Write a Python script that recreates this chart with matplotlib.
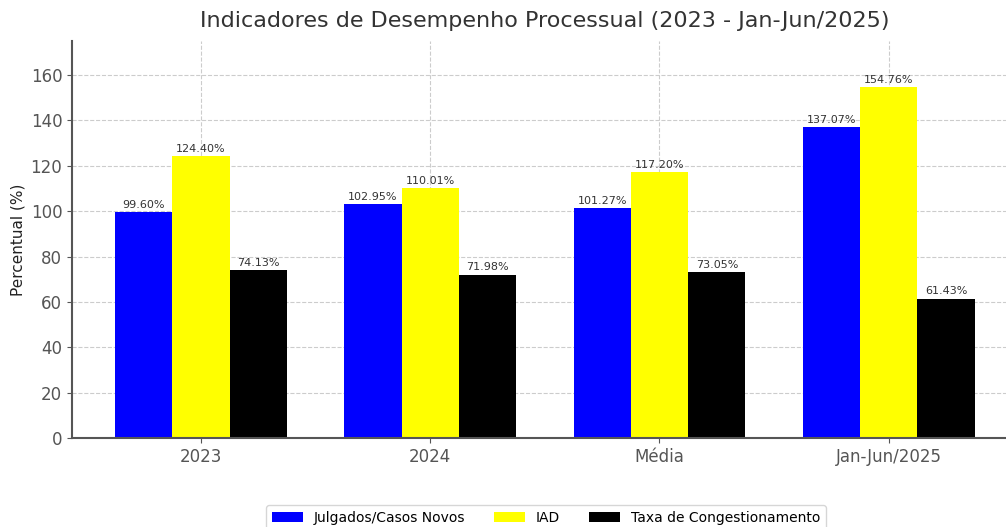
import matplotlib
matplotlib.use("Agg")
import matplotlib.pyplot as plt
import numpy as np

categories = ["2023", "2024", "Média", "Jan-Jun/2025"]
julgados = [99.60, 102.95, 101.27, 137.07]
iad = [124.40, 110.01, 117.20, 154.76]
taxa = [74.13, 71.98, 73.05, 61.43]
series_names = ["Julgados/Casos Novos", "IAD", "Taxa de Congestionamento"]
colors = ["blue", "yellow", "black"]

plt.rcParams['font.family'] = ['DejaVu Sans']
txt = "#333333"

fig = plt.figure(figsize=(10.06, 5.27), dpi=100)
ax = fig.add_axes([0.0716, 0.169, 0.94, 0.753])

x = np.arange(len(categories))
w = 0.25
for i, (vals, name, c) in enumerate(zip([julgados, iad, taxa], series_names, colors)):
    bars = ax.bar(x + (i - 1) * w, vals, w, color=c, label=name, zorder=2)
    for b, v in zip(bars, vals):
        ax.text(b.get_x() + b.get_width() / 2, b.get_height() + 1, f"{v:.2f}%",
                ha="center", va="bottom", fontsize=8, color=txt, zorder=3)

ax.set_xticks(x)
ax.set_xticklabels(categories, fontsize=12, color="#222222")
ax.tick_params(axis="y", labelsize=12, labelcolor="#222222")
ax.set_ylim(0, 175)
ax.set_xlim(-0.5625, 3.5625)
ax.set_yticks([0, 20, 40, 60, 80, 100, 120, 140, 160])
ax.set_ylabel("Percentual (%)", fontsize=11, color="#222222")
ax.set_title("Indicadores de Desempenho Processual (2023 - Jan-Jun/2025)", fontsize=16, color=txt, pad=10)
ax.grid(True, linestyle="--", color="#cccccc", linewidth=0.8, zorder=0)
ax.set_axisbelow(True)
for s in ["top", "right"]:
    ax.spines[s].set_visible(False)
for s in ["left", "bottom"]:
    ax.spines[s].set_color("#555555")
    ax.spines[s].set_linewidth(1.5)
ax.tick_params(colors="#555555")

fig.legend(loc="upper center", bbox_to_anchor=(0.543, 0.054), ncol=3, fontsize=10,
           frameon=True, handlelength=2.2, columnspacing=2.1)

fig.savefig("out.png", dpi=100)
